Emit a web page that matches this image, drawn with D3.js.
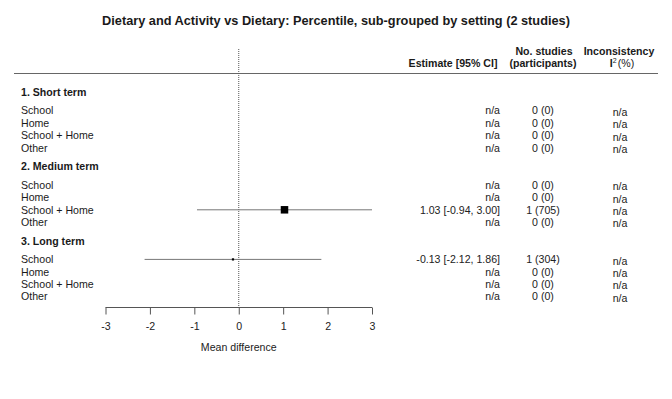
<!DOCTYPE html>
<html>
<head>
<meta charset="utf-8">
<script src="https://cdn.jsdelivr.net/npm/d3@7"></script>
<style>
  body { margin: 0; background: #fff; }
  svg { font-family: Arial, "Liberation Sans", sans-serif; }
</style>
</head>
<body>
<div id="plot"></div>
<script>
// data
const title = "Dietary and Activity vs Dietary: Percentile, sub-grouped by setting (2 studies)";
const groups = ["1. Short term", "2. Medium term", "3. Long term"];
const settings = ["School", "Home", "School + Home", "Other"];
const estimates = [[null, null, null, null], [null, null, 1.03, null], [-0.13, null, null, null]];
const lowerCI = [[null, null, null, null], [null, null, -0.94, null], [-2.12, null, null, null]];
const upperCI = [[null, null, null, null], [null, null, 3.00, null], [1.86, null, null, null]];
const studies = [[0, 0, 0, 0], [0, 0, 1, 0], [1, 0, 0, 0]];
const participants = [[0, 0, 0, 0], [0, 0, 705, 0], [304, 0, 0, 0]];
const xTicks = [-3, -2, -1, 0, 1, 2, 3];
const xLabel = "Mean difference";

const width = 672, height = 399;
const ink = "#1a1a1a", lineCol = "#666";

const svg = d3.select("#plot")
    .append("svg")
    .attr("width", width)
    .attr("height", height);

// build rows: group header, then one row per setting
const rows = [];
groups.forEach((g, gi) => {
    rows.push({ type: "header", label: g, pos: gi * 6 });
    settings.forEach((s, si) => {
        rows.push({
            type: "item", label: s, pos: gi * 6 + 1.5 + si,
            est: estimates[gi][si], lo: lowerCI[gi][si], hi: upperCI[gi][si],
            n: studies[gi][si], p: participants[gi][si]
        });
    });
});

const x = d3.scaleLinear().domain([-3, 3]).range([105.5, 372]);
const y = d3.scaleLinear().domain([0, 16.5]).range([92, 296.6]);
const box = d3.scaleLinear().domain([304, 705]).range([2.2, 7.5]);

// title
svg.append("text")
    .attr("x", 336).attr("y", 25)
    .attr("text-anchor", "middle")
    .style("font-size", "12.75px").style("font-weight", "bold")
    .attr("fill", ink)
    .text(title);

// column headers
const hdr = svg.append("g").style("font-size", "10.6px").style("font-weight", "bold").attr("fill", ink);
hdr.append("text").attr("x", 497.5).attr("y", 67).attr("text-anchor", "end").text("Estimate [95% CI]");
hdr.append("text").attr("x", 544).attr("y", 54.5).attr("text-anchor", "middle").text("No. studies");
hdr.append("text").attr("x", 543).attr("y", 67).attr("text-anchor", "middle").text("(participants)");
hdr.append("text").attr("x", 619).attr("y", 54.5).attr("text-anchor", "middle").text("Inconsistency");
const i2 = hdr.append("text").attr("x", 622).attr("y", 67).attr("text-anchor", "middle");
i2.append("tspan").text("I");
i2.append("tspan").attr("dy", -4).style("font-size", "7px").style("font-weight", "normal").text("2");
i2.append("tspan").attr("dy", 4).attr("dx", 1).style("font-weight", "normal").text("(%)");

// header rule
svg.append("line")
    .attr("x1", 14).attr("x2", 658)
    .attr("y1", 73.5).attr("y2", 73.5)
    .attr("stroke", lineCol).attr("stroke-width", 1.2);

// line of no effect
svg.append("line")
    .attr("x1", x(0)).attr("x2", x(0))
    .attr("y1", 49).attr("y2", 308)
    .attr("stroke", "#555").attr("stroke-width", 1)
    .attr("stroke-dasharray", "1,1");

// row labels
svg.append("g")
    .selectAll("text")
    .data(rows)
    .join("text")
    .attr("x", 21)
    .attr("y", d => y(d.pos))
    .attr("dy", "0.35em")
    .style("font-size", "10.6px")
    .style("font-weight", d => d.type === "header" ? "bold" : "normal")
    .attr("fill", ink)
    .text(d => d.label);

const items = rows.filter(d => d.type === "item");

// CI lines
svg.append("g")
    .selectAll("line")
    .data(items.filter(d => d.est !== null))
    .join("line")
    .attr("x1", d => x(d.lo)).attr("x2", d => x(d.hi))
    .attr("y1", d => y(d.pos)).attr("y2", d => y(d.pos))
    .attr("stroke", "#777").attr("stroke-width", 1);

// boxes
svg.append("g")
    .selectAll("rect")
    .data(items.filter(d => d.est !== null))
    .join("rect")
    .attr("x", d => x(d.est) - box(d.p) / 2)
    .attr("y", d => y(d.pos) - box(d.p) / 2)
    .attr("width", d => box(d.p))
    .attr("height", d => box(d.p))
    .attr("fill", "#000");

// right-hand columns
const cols = svg.append("g").style("font-size", "10.6px").attr("fill", "#222");
cols.selectAll(".est")
    .data(items)
    .join("text")
    .attr("class", "est")
    .attr("x", 500).attr("y", d => y(d.pos)).attr("dy", "0.35em")
    .attr("text-anchor", "end")
    .text(d => d.est === null ? "n/a" : `${d.est.toFixed(2)} [${d.lo.toFixed(2)}, ${d.hi.toFixed(2)}]`);
cols.selectAll(".nst")
    .data(items)
    .join("text")
    .attr("class", "nst")
    .attr("x", 543).attr("y", d => y(d.pos)).attr("dy", "0.35em")
    .attr("text-anchor", "middle")
    .text(d => `${d.n} (${d.p})`);
cols.selectAll(".i2")
    .data(items)
    .join("text")
    .attr("class", "i2")
    .attr("x", 620).attr("y", d => y(d.pos) + 1.5).attr("dy", "0.35em")
    .attr("text-anchor", "middle")
    .text("n/a");

// x axis
const axis = svg.append("g")
    .attr("transform", "translate(0,307.5)")
    .call(d3.axisBottom(x).tickValues(xTicks).tickSize(7).tickPadding(8).tickFormat(d => String(d)));
axis.select(".domain").attr("stroke", "#555").attr("d", `M${x(-3)},0H${x(3)}`);
axis.selectAll(".tick line").attr("stroke", "#555");
axis.selectAll(".tick text")
    .style("font-size", "10.6px")
    .style("font-family", "Arial, 'Liberation Sans', sans-serif")
    .attr("fill", "#222");

svg.append("text")
    .attr("x", x(0)).attr("y", 350.5)
    .attr("text-anchor", "middle")
    .style("font-size", "10.6px")
    .attr("fill", "#222")
    .text(xLabel);
</script>
</body>
</html>
